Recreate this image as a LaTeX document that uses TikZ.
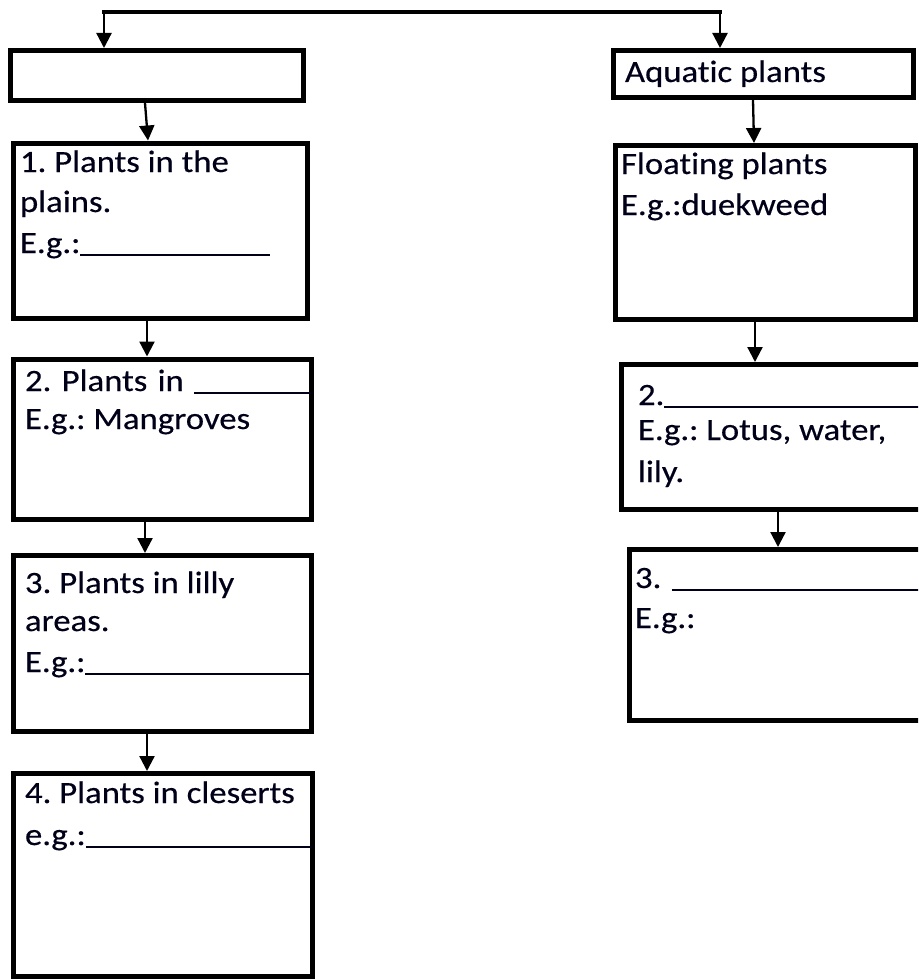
\documentclass[tikz,border=0pt]{standalone}
\usepackage{fontspec}
\setmainfont{Carlito}[FakeStretch=1.12, Ligatures=NoCommon, FakeBold=0.4]
\usetikzlibrary{arrows.meta}
\frenchspacing
\newcommand{\blankline}{\leaders\hrule height -1pt depth 2.7pt\hfill\kern0pt}
\tikzset{
  box/.style={draw, line width=5pt, inner sep=0pt, outer sep=2.5pt, anchor=north west},
  txt/.style={anchor=base west, inner sep=0pt, outer sep=0pt, text=black!90!blue, font=\fontsize{31}{36}\selectfont\frenchspacing},
  blankw/.style={txt, text width=#1, align=left},
  arr/.style={-{Triangle[width=15pt,length=15pt]}, line width=2.3pt},
  bar/.style={line width=4pt, line cap=rect}
}
\begin{document}
\begin{tikzpicture}[x=1pt,y=-1pt]
\useasboundingbox (0,0) rectangle (918,979);
\clip (0,0) rectangle (918,979);
% boxes
\node[box, minimum width=293pt, minimum height=50pt] (tl) at (8,48) {};
\node[box, minimum width=300pt, minimum height=47pt] (aq) at (611,48) {};
\node[box, minimum width=294.5pt, minimum height=175pt] (l1) at (10.5,140.5) {};
\node[box, minimum width=298pt, minimum height=160pt] (l2) at (10.5,356.5) {};
\node[box, minimum width=298.5pt, minimum height=175.5pt] (l3) at (10.5,553) {};
\node[box, minimum width=299.5pt, minimum height=203pt] (l4) at (10.5,771) {};
\node[box, minimum width=300pt, minimum height=173.5pt] (r1) at (613,143) {};
\node[box, minimum width=320pt, minimum height=144.5pt] (r2) at (619,362) {};
\node[box, minimum width=310pt, minimum height=171pt] (r3) at (627,547) {};
% top connector
\coordinate (jL) at (104,12);
\coordinate (jR) at (720,12);
\draw[bar] (jL) -- (jR);
\draw[arr] (jL) -- (jL |- tl.north);
\draw[arr] (jR) -- (jR |- aq.north);
% column connectors
\draw[arr] ([xshift=137pt]tl.south west) -- ([xshift=137.5pt]l1.north west);
\draw[arr] ([xshift=136.5pt]l1.south west) -- ([xshift=136.5pt]l2.north west);
\draw[arr] ([xshift=134.5pt]l2.south west) -- ([xshift=134.5pt]l3.north west);
\draw[arr] ([xshift=136.5pt]l3.south west) -- ([xshift=136.5pt]l4.north west);
\draw[arr] ([xshift=142pt]aq.south west) -- ([xshift=141pt]r1.north west);
\draw[arr] ([xshift=142pt]r1.south west) -- ([xshift=136pt]r2.north west);
\draw[arr] ([xshift=159pt]r2.south west) -- ([xshift=151pt]r3.north west);
% texts
\node[txt] (aqt) at (625,82) {Aquatic plants};
\node[txt] (l1a) at (20,172) {1. Plants in the};
\node[txt] (l1b) at (20,212) {plains.};
\node[blankw=250pt] (l1c) at (20,253) {E.g.:\blankline};
\node[blankw=286pt] (l2a) at (25,391) {2. Plants in \blankline};
\node[txt] (l2b) at (25,429) {E.g.: Mangroves};
\node[txt] (l3a) at (25,593) {3. Plants in lilly};
\node[txt] (l3b) at (25,631) {areas.};
\node[blankw=285pt] (l3c) at (25,672) {E.g.:\blankline};
\node[txt] (l4a) at (25,803) {4. Plants in cleserts};
\node[blankw=287pt] (l4b) at (25,845) {e.g.:\blankline};
\node[txt] (r1a) at (621,174) {Floating plants};
\node[txt] (r1b) at (621,215) {E.g.:duekweed};
\node[blankw=290pt] (r2a) at (638,405) {2.\blankline};
\node[txt] (r2b) at (638,440) {E.g.: Lotus, water,};
\node[txt] (r2c) at (638,482) {lily.};
\node[blankw=290pt] (r3a) at (635,588) {3. \blankline};
\node[txt] (r3b) at (635,628) {E.g.:};
\end{tikzpicture}
\end{document}
